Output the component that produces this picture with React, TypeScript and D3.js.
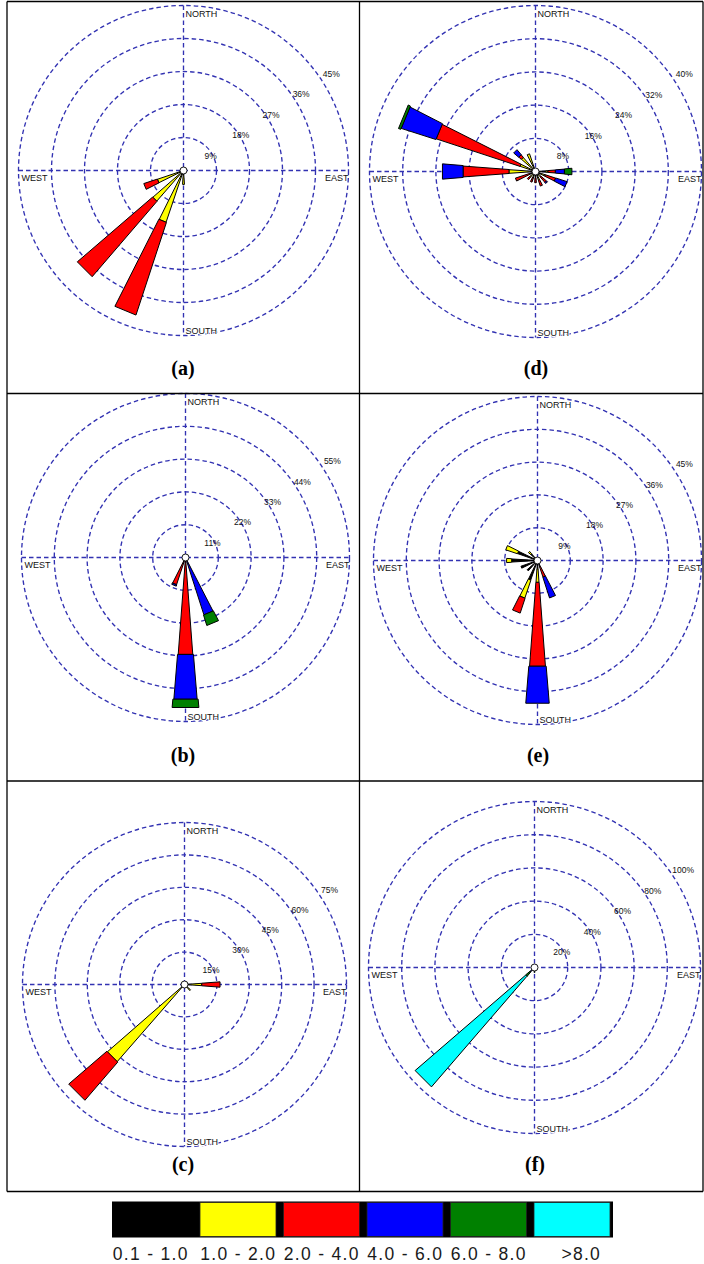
import React from "react";
import * as d3 from "d3";

// ---------- data ----------
const DIRECTIONS = ["N", "NNE", "NE", "ENE", "E", "ESE", "SE", "SSE", "S", "SSW", "SW", "WSW", "W", "WNW", "NW", "NNW"];
const SPEED_CLASSES = ["0.1 - 1.0", "1.0 - 2.0", "2.0 - 4.0", "4.0 - 6.0", "6.0 - 8.0", ">8.0"];
const CLASS_COLORS = ["#000000", "#ffff00", "#ff0000", "#0000ff", "#008000", "#00ffff"];

type Petal = { dir: string; v: number[] };

// frequency (%) per speed class, per direction
const ROSE_A: Petal[] = [
  { dir: "S", v: [0.8, 3.0, 0, 0, 0, 0] },
  { dir: "SSW", v: [1.0, 13.9, 26.6, 0, 0, 0] },
  { dir: "SW", v: [1.0, 10.1, 27.1, 0, 0, 0] },
  { dir: "WSW", v: [1.0, 6.5, 3.9, 0, 0, 0] },
];
const ROSE_B: Petal[] = [
  { dir: "S", v: [0.5, 0.5, 31.6, 15.1, 2.8, 0] },
  { dir: "SSE", v: [0.5, 0, 1.0, 18.7, 3.7, 0] },
  { dir: "SSW", v: [1.0, 0, 8.6, 0.5, 0, 0] },
];
const ROSE_C: Petal[] = [
  { dir: "SW", v: [2.6, 44.8, 23.3, 0, 0, 0] },
  { dir: "E", v: [0.5, 7.5, 8.5, 0, 0, 0] },
  { dir: "SE", v: [0.5, 3.2, 0, 0, 0, 0] },
];
const ROSE_D: Petal[] = [
  { dir: "WNW", v: [0.8, 3.1, 21.3, 8.8, 0.6, 0] },
  { dir: "W", v: [1.0, 5.4, 11.1, 5.0, 0, 0] },
  { dir: "NW", v: [1.0, 3.5, 0.8, 1.6, 0, 0] },
  { dir: "NNW", v: [1.0, 3.5, 0, 0, 0, 0] },
  { dir: "WSW", v: [1.5, 0, 3.6, 0, 0, 0] },
  { dir: "SW", v: [1.0, 0.8, 0.8, 0, 0, 0] },
  { dir: "SSW", v: [1.2, 0.5, 1.0, 0, 0, 0] },
  { dir: "S", v: [1.5, 0, 1.2, 0, 0, 0] },
  { dir: "SSE", v: [1.2, 1.0, 1.5, 0, 0, 0] },
  { dir: "SE", v: [1.2, 0.5, 1.8, 0.3, 0, 0] },
  { dir: "ESE", v: [1.5, 1.0, 2.6, 2.9, 0, 0] },
  { dir: "E", v: [2.5, 0.5, 1.8, 2.2, 1.8, 0] },
];
const ROSE_E: Petal[] = [
  { dir: "S", v: [2.3, 3.7, 23.1, 10.2, 0, 0] },
  { dir: "SSE", v: [1.9, 0, 2.9, 6.0, 0, 0] },
  { dir: "SSW", v: [5.7, 5.2, 4.3, 0, 0, 0] },
  { dir: "SW", v: [3.8, 0, 0, 0, 0, 0] },
  { dir: "WSW", v: [4.8, 0, 0, 0, 0, 0] },
  { dir: "W", v: [7.1, 1.4, 0, 0, 0, 0] },
  { dir: "WNW", v: [5.8, 3.4, 0, 0, 0, 0] },
  { dir: "NW", v: [2.5, 0.8, 0, 0, 0, 0] },
];
const ROSE_F: Petal[] = [
  { dir: "SW", v: [0.5, 0.5, 1.0, 1.5, 3.5, 88.0] },
  { dir: "S", v: [0, 0, 0, 0.5, 1.0, 1.5] },
];

const TICKS_A = [9, 18, 27, 36, 45];
const TICKS_B = [11, 22, 33, 44, 55];
const TICKS_C = [15, 30, 45, 60, 75];
const TICKS_D = [8, 16, 24, 32, 40];
const TICKS_E = [9, 18, 27, 36, 45];
const TICKS_F = [20, 40, 60, 80, 100];

// ---------- layout ----------
const W = 704;
const H = 1264;
const PANELS = [
  { label: "(a)", data: ROSE_A, ticks: TICKS_A, cx: 183.5, cy: 170.5, R: 165, lx: 183, ly: 375 },
  { label: "(d)", data: ROSE_D, ticks: TICKS_D, cx: 535.5, cy: 171.5, R: 166, lx: 536, ly: 375 },
  { label: "(b)", data: ROSE_B, ticks: TICKS_B, cx: 185.5, cy: 557.5, R: 164, lx: 183, ly: 762 },
  { label: "(e)", data: ROSE_E, ticks: TICKS_E, cx: 537.5, cy: 560.5, R: 164, lx: 538, ly: 762 },
  { label: "(c)", data: ROSE_C, ticks: TICKS_C, cx: 184.5, cy: 984.5, R: 162, lx: 183, ly: 1171 },
  { label: "(f)", data: ROSE_F, ticks: TICKS_F, cx: 534.5, cy: 967.5, R: 166, lx: 535, ly: 1171 },
];
const HALF_ANGLE = [3.4, 3.9, 4.3, 4.7, 5.1, 4.2]; // degrees, per speed class
const GRID = "#3232b2";
const SANS = "'Liberation Sans', Arial, sans-serif";

function Rose({ p }: { p: (typeof PANELS)[number] }) {
  const maxT = p.ticks[p.ticks.length - 1];
  const rScale = d3.scaleLinear().domain([0, maxT]).range([0, p.R]);
  const aScale = d3.scalePoint<string>().domain(DIRECTIONS).range([0, 360 - 360 / DIRECTIONS.length]);
  const pt = (rad: number, deg: number): [number, number] => {
    const a = (deg * Math.PI) / 180;
    return [p.cx + rad * Math.sin(a), p.cy - rad * Math.cos(a)];
  };
  const line = d3.line();
  const segs: { d: string; fill: string; key: string }[] = [];
  p.data.forEach((pet) => {
    const ang = aScale(pet.dir) as number;
    let cum = 0;
    pet.v.forEach((val, k) => {
      if (val <= 0) return;
      const r0 = rScale(cum);
      const r1 = rScale(cum + val);
      cum += val;
      const h = HALF_ANGLE[k];
      const poly = [pt(r0, ang - h), pt(r1, ang - h), pt(r1, ang + h), pt(r0, ang + h)];
      segs.push({ d: line(poly)! + "Z", fill: CLASS_COLORS[k], key: pet.dir + k });
    });
  });
  const dash = { stroke: GRID, strokeWidth: 1.35, strokeDasharray: "4.5 3", fill: "none" };
  return (
    <g>
      {p.ticks.map((t) => (
        <circle key={t} cx={p.cx} cy={p.cy} r={rScale(t)} {...dash} />
      ))}
      <line x1={p.cx - p.R} x2={p.cx + p.R} y1={p.cy} y2={p.cy} {...dash} />
      <line x1={p.cx} x2={p.cx} y1={p.cy - p.R} y2={p.cy + p.R} {...dash} />
      {p.ticks.map((t) => {
        const rr = rScale(t);
        return (
          <text key={"l" + t} x={p.cx + 0.914 * rr - 3} y={p.cy - 0.619 * rr + 8.5} fontSize={8.5} fontFamily={SANS} textAnchor="middle" fill="#111">
            {t}%
          </text>
        );
      })}
      <text x={p.cx + 2} y={p.cy - p.R + 11} fontSize={9} fontFamily={SANS} fill="#111">NORTH</text>
      <text x={p.cx + 2} y={p.cy + p.R - 2} fontSize={9} fontFamily={SANS} fill="#111" stroke="#fff" strokeWidth={2} paintOrder="stroke">SOUTH</text>
      <text x={p.cx - p.R + 3} y={p.cy + 10} fontSize={9} fontFamily={SANS} fill="#111">WEST</text>
      <text x={p.cx + p.R} y={p.cy + 10} fontSize={9} fontFamily={SANS} fill="#111" textAnchor="end">EAST</text>
      {segs.map((s) => (
        <path key={s.key} d={s.d} fill={s.fill} stroke="#000" strokeWidth={1} strokeLinejoin="miter" />
      ))}
      <circle cx={p.cx} cy={p.cy} r={3.5} fill="#fff" stroke="#000" strokeWidth={0.9} />
      <text x={p.lx} y={p.ly} fontSize={20} fontWeight="bold" fontFamily="'Liberation Serif', 'Times New Roman', serif" textAnchor="middle" fill="#000">
        {p.label}
      </text>
    </g>
  );
}

function Legend() {
  const x0 = 112;
  const x1 = 613;
  const y0 = 1201.5;
  const y1 = 1237.5;
  const band = d3.scaleBand<string>().domain(SPEED_CLASSES).range([x0, x1]);
  const bw = band.bandwidth();
  return (
    <g>
      <rect x={x0} y={y0} width={x1 - x0} height={y1 - y0} fill="#000" />
      {SPEED_CLASSES.map((c, i) =>
        i === 0 ? null : (
          <rect key={c} x={(band(c) as number) + 4.5} y={y0 + 1} width={bw - 7.5} height={y1 - y0 - 2} fill={CLASS_COLORS[i]} stroke="#222" strokeWidth={0.8} />
        )
      )}
      {SPEED_CLASSES.map((c, i) => (
        <text
          key={"t" + c}
          x={(band(c) as number) + bw / 2 + (i === 0 ? -3 : i === SPEED_CLASSES.length - 1 ? 10 : 1)}
          y={1260}
          fontSize={17.5}
          letterSpacing={1.3}
          fontFamily={SANS}
          textAnchor="middle"
          fill="#1a1a1a"
        >
          {c}
        </text>
      ))}
    </g>
  );
}

export default function App() {
  return (
    <svg width={W} height={H} style={{ position: "absolute", left: 0, top: 0, background: "#fff" }}>
      <rect x={0} y={0} width={W} height={H} fill="#fff" />
      {PANELS.map((p) => (
        <Rose key={p.label} p={p} />
      ))}
      <g stroke="#000" strokeWidth={1.3}>
        <line x1={7} x2={703} y1={1.5} y2={1.5} />
        <line x1={7} x2={703} y1={393.5} y2={393.5} />
        <line x1={7} x2={703} y1={781} y2={781} />
        <line x1={7} x2={703} y1={1191.5} y2={1191.5} />
        <line x1={7} x2={7} y1={1.5} y2={1191.5} />
        <line x1={359.5} x2={359.5} y1={1.5} y2={1191.5} />
        <line x1={703} x2={703} y1={1.5} y2={1191.5} />
      </g>
      <Legend />
    </svg>
  );
}
